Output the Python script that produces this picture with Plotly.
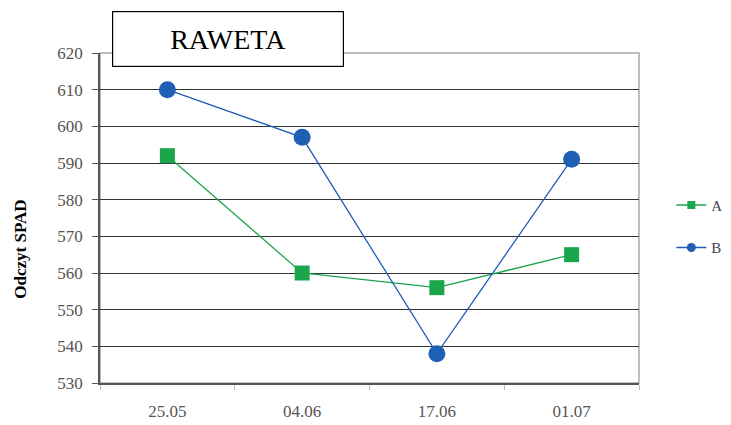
import plotly.graph_objects as go

dates = ["25.05", "04.06", "17.06", "01.07"]
series_a = [592, 560, 556, 565]
series_b = [610, 597, 538, 591]
y_ticks = list(range(530, 621, 10))

serif = "Times New Roman, Liberation Serif, DejaVu Serif, serif"
green = "#1ca64c"
blue = "#1f5fb4"

fig = go.Figure()
fig.add_trace(go.Scatter(
    x=dates, y=series_a, name="A", mode="lines+markers", showlegend=False,
    line=dict(color=green, width=1.3),
    marker=dict(symbol="square", size=15, color=green),
))
fig.add_trace(go.Scatter(
    x=dates, y=series_b, name="B", mode="lines+markers", showlegend=False,
    line=dict(color=blue, width=1.3),
    marker=dict(symbol="circle", size=17, color=blue),
))
# legend entries with smaller symbols
fig.add_trace(go.Scatter(
    x=[None], y=[None], name="A", mode="lines+markers", legendgroup="a",
    line=dict(color=green, width=1.3),
    marker=dict(symbol="square", size=8, color=green),
))
fig.add_trace(go.Scatter(
    x=[None], y=[None], name="B", mode="lines+markers", legendgroup="b",
    line=dict(color=blue, width=1.3),
    marker=dict(symbol="circle", size=9, color=blue),
))

# light frame around the plot area
fig.add_shape(type="rect", xref="paper", yref="paper", x0=0, x1=1, y0=0, y1=1,
              line=dict(color="#aaaaaa", width=1.5), layer="below")

fig.add_annotation(
    text="RAWETA", xref="paper", yref="paper", x=0.2366, y=1.041,
    showarrow=False, font=dict(family=serif, size=28, color="black"),
    bordercolor="black", borderwidth=1.2, bgcolor="white",
    width=228, height=52, xanchor="center", yanchor="middle",
)

# vertical axis title
fig.add_annotation(
    text="<b>Odczyt SPAD</b>", xref="paper", yref="paper",
    x=-0.149, y=0.406, textangle=-90, showarrow=False,
    font=dict(family=serif, size=17, color="black"),
    xanchor="center", yanchor="middle",
)

fig.update_layout(
    width=731, height=425,
    margin=dict(l=100, r=92, t=53, b=42, autoexpand=False),
    paper_bgcolor="white", plot_bgcolor="white",
    font=dict(family=serif),
    showlegend=True,
    legend=dict(x=1.06, y=0.475, xanchor="left", yanchor="middle",
                font=dict(family=serif, size=15, color="#444"),
                tracegroupgap=20, itemwidth=30,
                bgcolor="rgba(0,0,0,0)"),
    xaxis=dict(
        type="category", range=[-0.5, 3.5], showgrid=False,
        showline=True, linecolor="#555", linewidth=1.5,
        ticks="outside", tickson="boundaries", ticklen=5, tickcolor="#bbbbbb",
        tickfont=dict(family=serif, size=17, color="#555"),
        ticklabelstandoff=12,
    ),
    yaxis=dict(
        range=[530, 620], tickvals=y_ticks, showgrid=True,
        gridcolor="#333333", gridwidth=1.3,
        showline=True, linecolor="#555", linewidth=1.5,
        ticks="outside", ticklen=6, tickcolor="#555",
        tickfont=dict(family=serif, size=17, color="#555"),
        ticklabelstandoff=6,
        zeroline=False,
    ),
)

fig.write_html("out.html")
